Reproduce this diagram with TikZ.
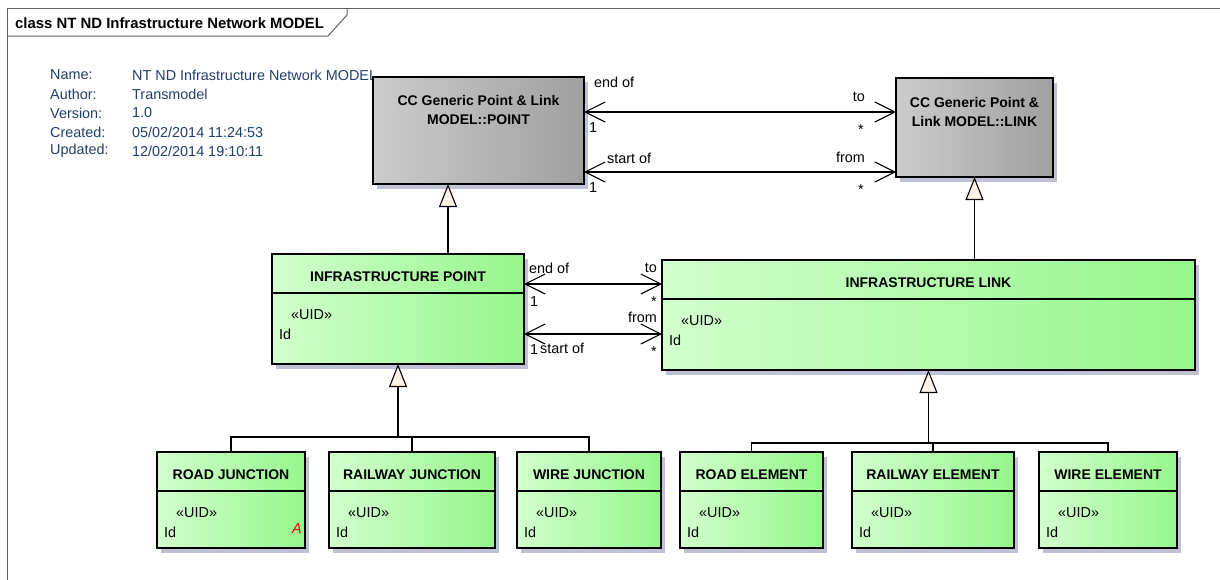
\documentclass[tikz,border=0pt]{standalone}
\usepackage{fontspec}
\setmainfont{Liberation Sans}
\usetikzlibrary{arrows.meta,shadows}

\definecolor{frameline}{RGB}{96,96,96}
\definecolor{infoblue}{RGB}{35,62,108}
\definecolor{shadowgrey}{RGB}{190,194,212}
\definecolor{greenlo}{RGB}{210,255,206}
\definecolor{greenhi}{RGB}{150,246,140}
\definecolor{greylo}{RGB}{204,204,204}
\definecolor{greyhi}{RGB}{160,160,160}
\definecolor{gencream}{RGB}{253,243,230}

\tikzset{
  cls/.style={draw, line width=1.2pt, anchor=north west, outer sep=0pt, inner sep=0pt,
    left color=greenlo, right color=greenhi,
    drop shadow={shadow xshift=4pt, shadow yshift=-5pt, fill=shadowgrey, opacity=1}},
  gcls/.style={cls, left color=greylo, right color=greyhi},
  ttl/.style={font=\fontsize{14}{19}\selectfont\bfseries, inner sep=0pt},
  attr/.style={font=\fontsize{14.4}{17}\selectfont, anchor=west, inner sep=0pt},
  role/.style={font=\fontsize{14.4}{17}\selectfont, inner sep=0pt},
  info/.style={font=\fontsize{14.4}{17}\selectfont, text=infoblue, anchor=west, inner sep=0pt},
  assoc/.style={line width=1.1pt,
    {Straight Barb[length=20pt,width=20pt]}-{Straight Barb[length=20pt,width=20pt]}},
  gen/.style={line width=1.1pt, -{Triangle[length=23pt,width=18pt,fill=gencream]}},
  tree/.style={line width=1.1pt},
}

\begin{document}
\begin{tikzpicture}[x=1pt, y=-1pt]
  \useasboundingbox (0,0) rectangle (1220,579);

  % diagram frame and its tab
  \draw[frameline, line width=1pt] (7,600) -- (7,8) -- (1240,8);
  \draw[frameline, line width=1pt] (7,36) -- (328,36) -- (347,15) -- (347,8);
  \node[anchor=west, inner sep=0pt, font=\fontsize{14.9}{17}\selectfont\bfseries] (hdr) at (15,23)
    {class NT ND Infrastructure Network MODEL};

  % notes
  \foreach \k/\v [count=\i] in {Name:/{NT ND Infrastructure Network MODEL}, Author:/Transmodel,
      Version:/1.0, Created:/{05/02/2014 11:24:53}, Updated:/{12/02/2014 19:10:11}} {
    \node[info] (infok\i) at (50,56+19*\i) {\k};
    \node[info] (infov\i) at (132,56+19*\i) {\v};
  }

  % generic point and link
  \node[gcls, minimum width=211, minimum height=107] (point) at (373,77) {};
  \node[ttl, align=center] (point-t) at ([yshift=-33pt]point.north)
    {CC Generic Point \& Link\\MODEL::POINT};
  \node[gcls, minimum width=157, minimum height=99] (link) at (896,78) {};
  \node[ttl, align=center] (link-t) at ([yshift=-34pt]link.north)
    {CC Generic Point \&\\Link MODEL::LINK};

  % infrastructure classes
  \foreach \nm/\x/\y/\w/\h/\lbl in {
      ipoint/272/254/252/110/INFRASTRUCTURE POINT,
      ilink/662/260/533/110/INFRASTRUCTURE LINK,
      rdjn/157/452/148/96/ROAD JUNCTION,
      rljn/329/452/166/96/RAILWAY JUNCTION,
      wrjn/517/452/144/96/WIRE JUNCTION,
      rdel/680/452/143/96/ROAD ELEMENT,
      rlel/852/452/162/96/RAILWAY ELEMENT,
      wrel/1039/452/138/96/WIRE ELEMENT} {
    \node[cls, minimum width=\w, minimum height=\h] (\nm) at (\x,\y) {};
    \draw[line width=1.2pt] ([yshift=-39pt]\nm.north west) -- ([yshift=-39pt]\nm.north east);
    \node[ttl] (\nm-t) at ([yshift=-23pt]\nm.north) {\lbl};
    \node[attr] (\nm-s) at ([xshift=19pt,yshift=-61pt]\nm.north west) {«UID»};
    \node[attr] (\nm-a) at ([xshift=7pt,yshift=-80pt]\nm.north west) {Id};
  }
  \node[attr, anchor=east, text=red, font=\fontsize{14.4}{17}\selectfont\itshape] (rdjn-abs)
    at ([xshift=-3pt,yshift=-77pt]rdjn.north east) {A};

  % associations
  \draw[assoc] (point.east |- 0,112) -- (link.west |- 0,112);
  \draw[assoc] (point.east |- 0,172) -- (link.west |- 0,172);
  \draw[assoc] (ipoint.east |- 0,284) -- (ilink.west |- 0,284);
  \draw[assoc] (ipoint.east |- 0,334) -- (ilink.west |- 0,334);

  \node[role, anchor=west] (pt-end) at (594,82) {end of};
  \node[role, anchor=west] (pt-m1) at (589,128) {1};
  \node[role, anchor=east] (lk-to) at (865,97) {to};
  \node[role, anchor=base east] (lk-m1) at (864,134) {*};
  \node[role, anchor=west] (pt-start) at (607,158) {start of};
  \node[role, anchor=west] (pt-m2) at (589,188) {1};
  \node[role, anchor=east] (lk-from) at (865,157) {from};
  \node[role, anchor=base east] (lk-m2) at (864,194) {*};

  \node[role, anchor=west] (ip-end) at (529,268) {end of};
  \node[role, anchor=west] (ip-m1) at (530,302) {1};
  \node[role, anchor=east] (il-to) at (657,268) {to};
  \node[role, anchor=base east] (il-m1) at (657,306) {*};
  \node[role, anchor=east] (il-from) at (657,317) {from};
  \node[role, anchor=west] (ip-m2) at (530,350) {1};
  \node[role, anchor=west] (ip-start) at (540,348) {start of};
  \node[role, anchor=base east] (il-m2) at (657,356) {*};

  % generalisations
  \draw[gen] ([xshift=50pt]ipoint.north) -- ([xshift=50pt]ipoint.north |- point.south);
  \draw[gen] (link.south |- ilink.north) -- (link.south);

  \coordinate (jbar) at (ipoint.south |- 0,437);
  \foreach \nm in {rdjn,rljn,wrjn}
    \draw[tree] (\nm.north) |- (jbar);
  \draw[gen] (jbar) -- (ipoint.south);

  \coordinate (ebar) at (ilink.south |- 0,443);
  \foreach \nm in {rdel,rlel,wrel}
    \draw[tree] (\nm.north) |- (ebar);
  \draw[gen] (ebar) -- (ilink.south);
\end{tikzpicture}
\end{document}
